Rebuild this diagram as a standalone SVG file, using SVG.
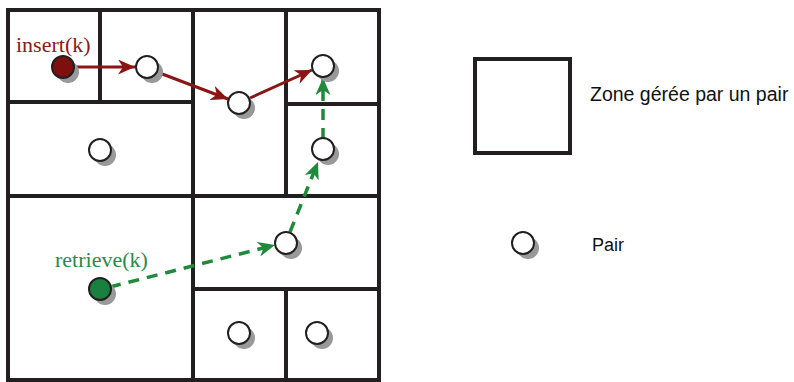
<svg xmlns="http://www.w3.org/2000/svg" width="794" height="382" viewBox="0 0 794 382">
<style>
.wall{stroke:#231f20;stroke-width:4;fill:none;stroke-linecap:square}
.shadow{fill:#999999}
.peer{fill:#ffffff;stroke:#231f20;stroke-width:2}
.red{stroke:#8b1414;stroke-width:3;fill:none}
.green{stroke:#1f8a3c;stroke-width:3.5;fill:none;stroke-dasharray:11 8}
.lbl{font-family:"Liberation Sans",Arial,sans-serif;fill:#111}
.op{font-family:"Liberation Serif","Times New Roman",serif;font-size:22px}
</style>
<defs>
<marker id="ahRed" markerUnits="userSpaceOnUse" markerWidth="18" markerHeight="15" refX="17" refY="7.5" orient="auto" viewBox="0 0 18 15">
<path d="M0,0 L17,7.5 L0,15 L5,7.5 Z" fill="#8b1414"/>
</marker>
<marker id="ahGreen" markerUnits="userSpaceOnUse" markerWidth="18" markerHeight="15" refX="17" refY="7.5" orient="auto" viewBox="0 0 18 15">
<path d="M0,0 L17,7.5 L0,15 L5,7.5 Z" fill="#1f8a3c"/>
</marker>
</defs>
<rect width="794" height="382" fill="#ffffff"/>
<g id="grid">
<rect class="wall" x="8" y="10" width="371" height="370"/>
<line class="wall" x1="193" y1="10" x2="193" y2="380"/>
<line class="wall" x1="100" y1="10" x2="100" y2="102"/>
<line class="wall" x1="8" y1="102" x2="193" y2="102"/>
<line class="wall" x1="8" y1="196" x2="379" y2="196"/>
<line class="wall" x1="286" y1="10" x2="286" y2="196"/>
<line class="wall" x1="286" y1="104" x2="379" y2="104"/>
<line class="wall" x1="193" y1="289" x2="379" y2="289"/>
<line class="wall" x1="286" y1="289" x2="286" y2="380"/>
</g>
<g id="connectors">
<line class="red" x1="74" y1="67" x2="135" y2="67" marker-end="url(#ahRed)"/>
<line class="red" x1="157" y1="72" x2="228" y2="99" marker-end="url(#ahRed)"/>
<line class="red" x1="250" y1="98" x2="312" y2="70" marker-end="url(#ahRed)"/>
<line class="green" x1="110" y1="287" x2="275" y2="245" marker-end="url(#ahGreen)"/>
<line class="green" x1="290" y1="232" x2="318" y2="162" marker-end="url(#ahGreen)"/>
<line class="green" x1="323" y1="139" x2="323" y2="78" marker-end="url(#ahGreen)"/>
</g>
<g id="peer-insert">
<circle class="shadow" cx="68" cy="72" r="11"/>
<circle cx="63" cy="67" r="11" fill="#7d0f0f" stroke="#231f20" stroke-width="2"/>
<text class="op" x="16" y="52" fill="#8b1a1a">insert(k)</text>
</g>
<g id="peer-retrieve">
<circle class="shadow" cx="105" cy="294" r="11"/>
<circle cx="100" cy="289" r="11" fill="#1a8040" stroke="#231f20" stroke-width="2"/>
<text class="op" x="55" y="267" fill="#2a8a48">retrieve(k)</text>
</g>
<g id="peer-1"><circle class="shadow" cx="152" cy="72" r="11"/><circle class="peer" cx="147" cy="67" r="11"/></g>
<g id="peer-2"><circle class="shadow" cx="244" cy="108" r="11"/><circle class="peer" cx="239" cy="103" r="11"/></g>
<g id="peer-3"><circle class="shadow" cx="328" cy="71" r="11"/><circle class="peer" cx="323" cy="66" r="11"/></g>
<g id="peer-4"><circle class="shadow" cx="105" cy="155" r="11"/><circle class="peer" cx="100" cy="150" r="11"/></g>
<g id="peer-5"><circle class="shadow" cx="328" cy="154" r="11"/><circle class="peer" cx="323" cy="149" r="11"/></g>
<g id="peer-6"><circle class="shadow" cx="291" cy="248" r="11"/><circle class="peer" cx="286" cy="243" r="11"/></g>
<g id="peer-7"><circle class="shadow" cx="244" cy="338" r="11"/><circle class="peer" cx="239" cy="333" r="11"/></g>
<g id="peer-8"><circle class="shadow" cx="322" cy="338" r="11"/><circle class="peer" cx="317" cy="333" r="11"/></g>
<g id="legend-zone">
<rect class="wall" x="475" y="59" width="95" height="94"/>
<text class="lbl" x="590" y="101" font-size="19.5">Zone gérée par un pair</text>
</g>
<g id="legend-peer">
<circle class="shadow" cx="528" cy="248" r="11"/>
<circle class="peer" cx="523" cy="243" r="11"/>
<text class="lbl" x="592" y="251" font-size="18">Pair</text>
</g>
</svg>
